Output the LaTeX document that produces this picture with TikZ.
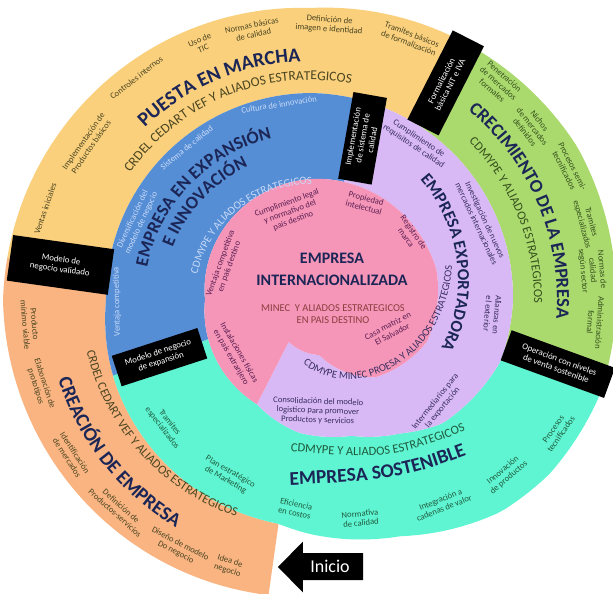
\documentclass[tikz,border=0pt]{standalone}
\usepackage{fontspec}
\setmainfont{Carlito}
\usetikzlibrary{decorations.text}

\definecolor{creacion}{HTML}{F9B482}
\definecolor{puesta}{HTML}{FAD07D}
\definecolor{crecim}{HTML}{AAD96E}
\definecolor{sosten}{HTML}{5FF5D2}
\definecolor{expans}{HTML}{568ED6}
\definecolor{exporta}{HTML}{D8B9F5}
\definecolor{interna}{HTML}{F596B9}
\definecolor{navytx}{HTML}{1B2656}
\definecolor{olivetx}{HTML}{4A4520}
\definecolor{greentx}{HTML}{35501C}
\definecolor{tealtx}{HTML}{1E5A3C}
\definecolor{bluetx}{HTML}{C8DAF7}
\definecolor{purpletx}{HTML}{3A2E60}
\definecolor{pinktx}{HTML}{5A1E50}
\definecolor{browntx}{HTML}{8A3E3E}

\begin{document}
\begin{tikzpicture}[x=1pt, y=1pt,
    declare function={bnd(\x)=ifthenelse(\x<82,298+\x*0.10976,
      ifthenelse(\x<172,307-(\x-82)*0.16667,
      ifthenelse(\x<232,292+(\x-172)*0.26667,
      ifthenelse(\x<280,308-(\x-232)*0.0625,
      ifthenelse(\x<298,305-(\x-280)*0.5,
      ifthenelse(\x<310,296-(\x-298)*0.91667,
      ifthenelse(\x<331,285-(\x-310)*1.52381,
      ifthenelse(\x<352,253-(\x-331)*0.90476,
      ifthenelse(\x<360,234-(\x-352),
      ifthenelse(\x<379,226-(\x-360)*0.21053,
      ifthenelse(\x<418,222-(\x-379)*0.25641,
      ifthenelse(\x<442,212-(\x-418)*0.33333,
      ifthenelse(\x<532,204+(\x-442)*0.03333,
      ifthenelse(\x<622,207-(\x-532)*0.04444,
      ifthenelse(\x<640,203-(\x-622)*0.16667,
      ifthenelse(\x<665,200-(\x-640)*0.76,
      ifthenelse(\x<678,181-(\x-665)*1.53846,
      ifthenelse(\x<695,161-(\x-678)*1.11765,
      ifthenelse(\x<717,142-(\x-695)*0.40909,
      ifthenelse(\x<739,133-(\x-717)*0.72727,
      ifthenelse(\x<802,117-(\x-739)*0.19048,
      ifthenelse(\x<892,105+(\x-802)*0.17778,
      ifthenelse(\x<969,121+(\x-892)*0.11688,
      ifthenelse(\x<1002,130-(\x-969)*0.18182,
      ifthenelse(\x<1032,124-(\x-1002)*0.76667,
      ifthenelse(\x<1062,101-(\x-1032)*1.5,
      56-(\x-1062)*0.24324))))))))))))))))))))))))));}]

            \tikzset{lbl/.style={font=\fontsize{8.6}{9.4}\selectfont, align=center, inner sep=0pt},
                     mbox/.style={fill=black, text=white, font=\fontsize{8.8}{9.8}\selectfont, align=center, inner sep=1pt},
                     ring/.style={decorate, decoration={text along path, text align=center, text color=navytx, text={#1}}},
                     ringl/.style={decorate, decoration={text along path, text color=purpletx, text={#1}}}};

            \useasboundingbox (-310,-294) rectangle (303,300);
            \fill[white] (-310,-294) rectangle (303,300);
            \clip (-310,-294) rectangle (303,300);

            \fill[creacion] plot[domain=0:90, samples=50] ({262-\x}:{bnd(\x)}) -- plot[domain=90:0, samples=50] ({262-\x}:{bnd(\x+360)}) -- cycle;
            \fill[puesta] plot[domain=90:204, samples=60] ({262-\x}:{bnd(\x)}) -- plot[domain=204:90, samples=60] ({262-\x}:{bnd(\x+360)}) -- cycle;
            \fill[crecim] plot[domain=204:276, samples=40] ({262-\x}:{bnd(\x)}) -- plot[domain=276:204, samples=40] ({262-\x}:{bnd(\x+360)}) -- cycle;
            \fill[sosten] plot[domain=276:421, samples=80] ({262-\x}:{bnd(\x)}) -- plot[domain=421:276, samples=80] ({262-\x}:{bnd(\x+360)}) -- cycle;
            \fill[expans] plot[domain=421:548, samples=60] ({262-\x}:{bnd(\x)}) -- plot[domain=548:421, samples=60] ({262-\x}:{bnd(\x+360)}) -- cycle;
            \fill[exporta] plot[domain=548:739, samples=90] ({262-\x}:{bnd(\x)}) -- plot[domain=739:548, samples=90] ({262-\x}:{bnd(\x+360)}) -- cycle;
            \fill[interna] plot[domain=739:1099, samples=160] ({262-\x}:{bnd(\x)}) -- cycle;

            \node[mbox, rotate=-8, minimum width=102pt, minimum height=46pt] (validado) at (172:252) {Modelo de\\negocio validado};
            \node[mbox, rotate=63, minimum width=100pt, minimum height=35pt] (formal) at (58:256) {Formalización\\básica NIT e IVA};
            \node[mbox, rotate=-20, minimum width=110pt, minimum height=32pt] (operacion) at (-14.5:256) {Operación con niveles\\de venta sostenible};
            \node[mbox, rotate=18, minimum width=90pt, minimum height=32pt] (expansion) at (200.8:161) {Modelo de negocio\\de expansión};
            \node[mbox, rotate=80, minimum width=88pt, minimum height=34pt] (calidad) at (72:170) {Implementación\\de sistema de\\calidad};

            \path[ring={|\bfseries\fontsize{19.5}{20}\selectfont|CREACIÓN DE EMPRESA}]
                (193.5:264) arc[start angle=193.5, end angle=243.5, radius=264];
            \path[ring={|\color{olivetx}\fontsize{12.5}{12.5}\selectfont|CRDEL CEDART VEF Y ALIADOS ESTRATEGICOS}]
                (183:229) arc[start angle=183, end angle=261, radius=229];
            \path[ring={|\bfseries\fontsize{20}{20}\selectfont|PUESTA EN MARCHA}]
                (140:238.6) arc[start angle=140, end angle=86, radius=238.6];
            \path[ring={|\color{olivetx}\fontsize{13.5}{13.5}\selectfont|CRDEL CEDART VEF Y ALIADOS ESTRATEGICOS}]
                (150:220) arc[start angle=150, end angle=74, radius=220];
            \path[ring={|\bfseries\fontsize{18.5}{18.5}\selectfont|CRECIMIENTO DE LA EMPRESA}]
                (58:247) arc[start angle=58, end angle=-12, radius=247];
            \path[ring={|\color{greentx}\fontsize{12.5}{12.5}\selectfont|CDMYPE Y ALIADOS ESTRATEGICOS}]
                (55:224) arc[start angle=55, end angle=-11, radius=224];
            \path[ring={|\bfseries\fontsize{19.5}{20}\selectfont|EMPRESA SOSTENIBLE}]
                (-40,-186) .. controls (90,-180) .. (175,-148);
            \path[ring={|\color{tealtx}\fontsize{12.5}{12.5}\selectfont|CDMYPE Y ALIADOS ESTRATEGICOS}]
                (-35,-150) .. controls (80,-160) .. (170,-125);
            \path[ring={|\bfseries\fontsize{18}{18}\selectfont|EMPRESA EN EXPANSIÓN}]
                (175:166) arc[start angle=175, end angle=97, radius=166];
            \path[ring={|\bfseries\fontsize{18}{18}\selectfont|E INNOVACIÓN}]
                (170:147) arc[start angle=170, end angle=104, radius=147];
            \path[ring={|\color{bluetx}\fontsize{11}{11}\selectfont|CDMYPE Y ALIADOS ESTRATEGICOS}]
                (180:115.5) arc[start angle=180, end angle=76, radius=115.5];
            \path[ring={|\bfseries\fontsize{17}{17}\selectfont|EMPRESA EXPORTADORA}]
                plot[domain=62:-37.5, samples=50] (\x:{146.8+0.346*\x});
            \path[ringl={|\fontsize{10.5}{10.5}\selectfont|CDMYPE MINEC PROESA Y ALIADOS ESTRATEGICOS}]
                plot[domain=-96:40, samples=70] (\x:{136+0.75*\x});

            \node[lbl, text=olivetx, rotate=-85] (producto) at (185:281) {Producto\\mínimo viable};
            \node[lbl, text=olivetx, rotate=-72] (prototipo) at (197.5:283) {Elaboración de\\prototipos};
            \node[lbl, text=olivetx, rotate=-57] (mercados) at (213:285) {Identificación\\de mercados};
            \node[lbl, text=olivetx, rotate=-42] (productos) at (227.5:284) {Definición de\\Productos-servicios};
            \node[lbl, text=olivetx, rotate=-28] (diseno) at (242:281) {Diseño de modelo\\Do negocio};
            \node[lbl, text=olivetx, rotate=-17] (idea) at (253:278) {Idea de\\negocio};

            \node[lbl, text=olivetx, rotate=71] (ventas) at (161:280) {Ventas iniciales};
            \node[lbl, text=olivetx, rotate=55] (implem) at (145:272) {Implementación de\\Productos básicos};
            \node[lbl, text=olivetx, rotate=38] (controles) at (128:282) {Controles internos};
            \node[lbl, text=olivetx, rotate=23] (tic) at (113:278) {Uso de\\TIC};
            \node[lbl, text=olivetx, rotate=12] (normas) at (102:276) {Normas básicas\\de calidad};
            \node[lbl, text=olivetx, rotate=-4] (imagen) at (86:276) {Definición de\\imagen e identidad};
            \node[lbl, text=olivetx, rotate=-21] (tramites) at (69:280) {Tramites básicos\\de formalización};

            \node[lbl, text=greentx, rotate=-41] (penetra) at (49:287) {Penetración\\de mercados\\formales};
            \node[lbl, text=greentx, rotate=-52] (nichos) at (38:282) {Nichos\\de mercados\\definidos};
            \node[lbl, text=greentx, rotate=-63] (semi) at (27:290) {Procesos semi-\\tecnificados};
            \node[lbl, text=greentx, rotate=-75] (especial) at (15.5:287) {Tramites\\especializados};
            \node[lbl, text=greentx, rotate=-85] (sector) at (6:284) {Normas de\\calidad\\según sector};
            \node[lbl, text=greentx, rotate=-94] (admin) at (-4.5:286) {Administración\\formal};

            \node[lbl, text=tealtx, rotate=55] (tecnif) at (-28:280) {Procesos\\tecnificados};
            \node[lbl, text=tealtx, rotate=40] (innova) at (-41.6:262) {Innovación\\de productos};
            \node[lbl, text=tealtx, rotate=22] (cadenas) at (-57:243) {Integración a\\cadenas de valor};
            \node[lbl, text=tealtx, rotate=6] (normativa) at (-77:224) {Normativa\\de calidad};
            \node[lbl, text=tealtx, rotate=-12] (eficiencia) at (-94:209) {Eficiencia\\en costos};
            \node[lbl, text=tealtx, rotate=-30] (marketing) at (245:194) {Plan estratégico\\de Marketing};
            \node[lbl, text=tealtx, rotate=-52] (tramesp) at (221:191) {Tramites\\especializados};

            \node[lbl, text=bluetx, rotate=91] (ventaja) at (180.5:193) {Ventaja competitiva};
            \node[lbl, text=bluetx, rotate=65] (diversif) at (155.5:190) {Diversificación del\\modelo de negocio};
            \node[lbl, text=bluetx, rotate=39] (sistema) at (129:196) {Sistema de calidad};
            \node[lbl, text=bluetx, rotate=9] (cultura) at (99:198) {Cultura de innovación};

            \node[lbl, text=purpletx, rotate=-34] (requisitos) at (56:190) {Cumplimiento de\\requisitos de calidad};
            \node[lbl, text=purpletx, rotate=-65] (investig) at (24.6:188) {Investigación de nuevos\\mercados internacionales};
            \node[lbl, text=purpletx, rotate=-95] (alianzas) at (-4.5:183) {Alianzas en\\el exterior};
            \node[lbl, text=purpletx, rotate=51] (intermed) at (-39:166) {Intermediarios para\\la exportación};
            \node[lbl, text=purpletx, rotate=-2] (consolid) at (8,-111) {Consolidación del modelo\\logistico para promover\\Productos y servicios};

            \node[lbl, text=pinktx, rotate=20] (legal) at (-20,88) {Cumplimiento legal\\y normativo del\\país destino};
            \node[lbl, text=pinktx, rotate=-15] (propiedad) at (55,97) {Propiedad\\intelectual};
            \node[lbl, text=pinktx, rotate=-55] (marca) at (100,65) {Registro de\\marca};
            \node[lbl, text=pinktx, rotate=70] (ventpais) at (-85,35) {Ventaja competitiva\\en país destino};
            \node[lbl, text=pinktx, rotate=-60] (instal) at (-75,-55) {Instalaciones físicas\\en país extranjero};
            \node[lbl, text=pinktx, rotate=28] (casa) at (80,-30) {Casa matriz en\\El Salvador};

            \node[font=\bfseries\fontsize{16}{22}\selectfont, text=navytx, align=center, inner sep=0pt] (internac) at (22,30.5) {EMPRESA\\INTERNACIONALIZADA};
            \node[font=\fontsize{10.5}{12.5}\selectfont, text=browntx, align=center, inner sep=0pt] (minec) at (23,-14) {MINEC\ \ Y ALIADOS ESTRATEGICOS\\EN PAIS DESTINO};

            \fill[black] (-32,-267) -- (-7,-241.5) -- (-7,-253) -- (53,-253) -- (53,-280) -- (-7,-280) -- (-7,-292.5) -- cycle;
            \node[font=\fontsize{18}{18}\selectfont, text=white, inner sep=0pt] (inicio) at (20,-266.5) {Inicio};
\end{tikzpicture}
\end{document}
